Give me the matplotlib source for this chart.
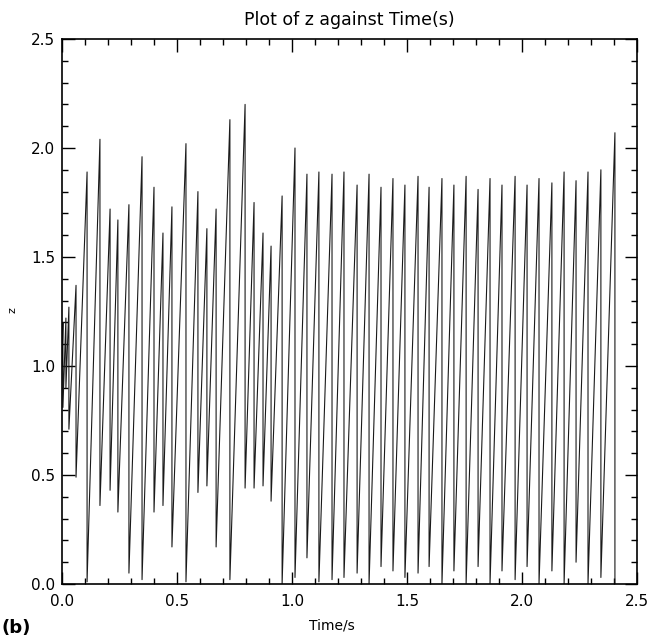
import matplotlib
matplotlib.use("Agg")
import matplotlib.pyplot as plt
from matplotlib.ticker import MultipleLocator, FormatStrFormatter
import numpy as np

# Relaxation-oscillation readings: time of each spike (s), value at the top of
# the spike, and value right after the drop (same time, vertical drop).
start_t = 0.0
start_z = 1.0
peak_t = [0.004, 0.017, 0.030, 0.061, 0.109, 0.165, 0.209, 0.243, 0.291, 0.348,
          0.400, 0.439, 0.478, 0.539, 0.591, 0.630, 0.670, 0.730, 0.796, 0.835,
          0.874, 0.909, 0.957, 1.013, 1.065, 1.117, 1.174, 1.226, 1.283, 1.335,
          1.387, 1.439, 1.491, 1.548, 1.596, 1.652, 1.704, 1.757, 1.809, 1.861,
          1.913, 1.970, 2.022, 2.074, 2.130, 2.183, 2.235, 2.287, 2.343, 2.404]
peak_z = [1.20, 1.22, 1.27, 1.37, 1.89, 2.04, 1.72, 1.67, 1.74, 1.96,
          1.82, 1.61, 1.73, 2.02, 1.80, 1.63, 1.72, 2.13, 2.20, 1.75,
          1.61, 1.55, 1.78, 2.00, 1.88, 1.89, 1.88, 1.89, 1.83, 1.88,
          1.82, 1.86, 1.83, 1.87, 1.82, 1.86, 1.83, 1.87, 1.81, 1.86,
          1.83, 1.87, 1.83, 1.86, 1.84, 1.89, 1.85, 1.89, 1.90, 2.07]
trough_z = [0.81, 0.90, 0.71, 0.49, 0.01, 0.36, 0.43, 0.33, 0.05, 0.02,
            0.33, 0.36, 0.17, 0.01, 0.42, 0.45, 0.17, 0.02, 0.44, 0.44,
            0.45, 0.38, 0.00, 0.03, 0.12, 0.01, 0.02, 0.03, 0.05, 0.00,
            0.08, 0.06, 0.03, 0.05, 0.08, 0.00, 0.06, 0.00, 0.08, 0.00,
            0.06, 0.02, 0.08, 0.00, 0.06, 0.00, 0.10, 0.00, 0.03, 0.00]

title = "Plot of z against Time(s)"
xlabel = "Time/s"
ylabel = "z"
panel = "(b)"

# build the sawtooth polyline
t = [start_t]
z = [start_z]
for pt, pz, tz in zip(peak_t, peak_z, trough_z):
    t += [pt, pt]
    z += [pz, tz]

fig = plt.figure(figsize=(6.58, 6.41), dpi=100)
ax = fig.add_axes([62/658, 57/641, 575/658, 545/641])
ax.plot(t, z, color="#1a1a1a", lw=0.8)

ax.set_xlim(0, 2.5)
ax.set_ylim(0, 2.5)
ax.xaxis.set_major_locator(MultipleLocator(0.5))
ax.xaxis.set_minor_locator(MultipleLocator(0.1))
ax.yaxis.set_major_locator(MultipleLocator(0.5))
ax.yaxis.set_minor_locator(MultipleLocator(0.1))
ax.xaxis.set_major_formatter(FormatStrFormatter("%.1f"))
ax.yaxis.set_major_formatter(FormatStrFormatter("%.1f"))
ax.tick_params(which="both", direction="in", top=True, right=True,
               labelsize=11, width=1.0, colors="black")
ax.tick_params(which="major", length=9)
ax.tick_params(which="minor", length=4.5)
ax.tick_params(axis="x", which="major", pad=7)
ax.tick_params(axis="y", which="major", pad=5)
for s in ax.spines.values():
    s.set_linewidth(1.2)

ax.set_title(title, fontsize=12.5, pad=10)
ax.set_xlabel(xlabel, fontsize=10)
ax.xaxis.set_label_coords(0.47, -0.063)
ax.set_ylabel(ylabel, fontsize=8)
ax.yaxis.set_label_coords(-0.077, 0.503)

fig.text(0.003, 1 - 628/641, panel, fontsize=13, fontweight="bold",
         va="center", ha="left")

fig.savefig("out.png", dpi=100)
